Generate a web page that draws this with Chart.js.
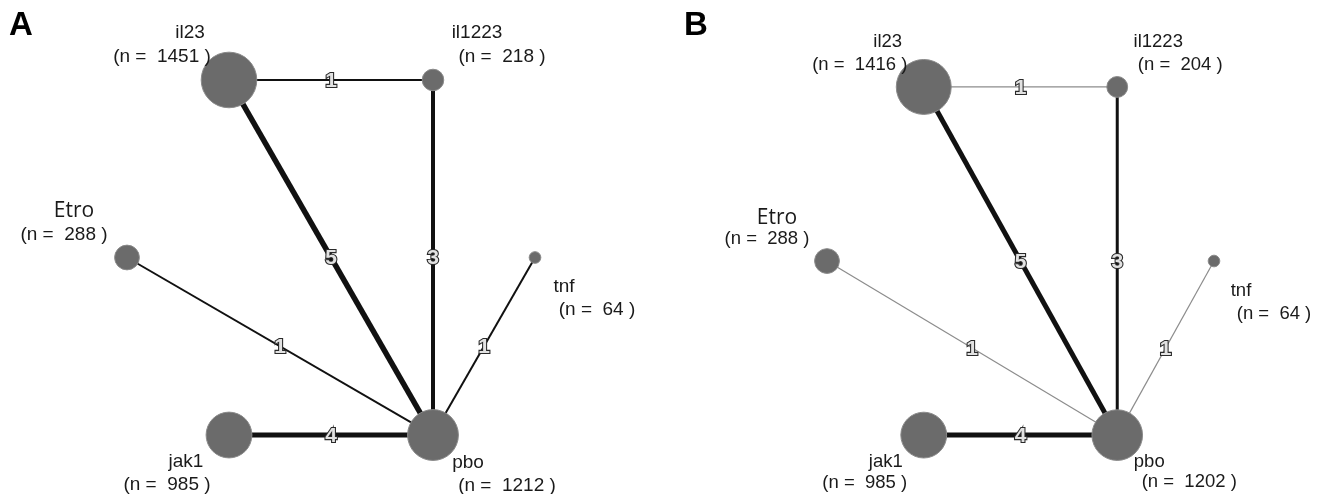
<!DOCTYPE html>
<html>
<head>
<meta charset="utf-8">
<script src="https://cdn.jsdelivr.net/npm/chart.js@4/dist/chart.umd.min.js"></script>
<style>
  html, body { margin: 0; padding: 0; background: #ffffff; }
  #wrap { position: relative; width: 1321px; height: 494px; overflow: hidden; }
  canvas { position: absolute; top: 0; }
  #cA { left: 0; }
  #cB { left: 660px; }
</style>
</head>
<body>
<div id="wrap">
  <canvas id="cA" width="660" height="494"></canvas>
  <canvas id="cB" width="661" height="494"></canvas>
</div>
<script>
// ---------------- DATA ----------------
const panelLabels = ['A', 'B'];
const treatments = ['tnf', 'il1223', 'il23', 'Etro', 'jak1', 'pbo'];
// circular (hexagon) network layout coordinates
const layoutX = [1, 0.5, -0.5, -1, -0.5, 0.5];
const layoutY = [0, 0.866, 0.866, 0, -0.866, -0.866];
const sampleSizeA = [64, 218, 1451, 288, 985, 1212];
const sampleSizeB = [64, 204, 1416, 288, 985, 1202];
const edgeFrom = ['il23', 'il23', 'il1223', 'Etro', 'tnf', 'jak1'];
const edgeTo   = ['il1223', 'pbo', 'pbo', 'pbo', 'pbo', 'pbo'];
const studiesA = [1, 5, 3, 1, 1, 4];
const studiesB = [1, 5, 3, 1, 1, 4];

// ---------------- STYLE / LAYOUT ----------------
const nodeColor = '#6b6b6b';
const nodeBorder = '#8a8a8a';
const radiusFactor = 0.73; // px per sqrt(n)

// label offsets (px from node centre): [nameDx, nameDy, nDx, nDy]
const labelOffsetsA = {
  tnf: [29, 29, 62, 52], il1223: [44, -47, 69, -23], il23: [-39, -47, -67, -23],
  Etro: [-53, -46, -63, -23], jak1: [-43, 27, -62, 50], pbo: [35, 28, 74, 51]
};
const labelOffsetsB = {
  tnf: [27, 30, 60, 53], il1223: [41, -45, 63, -22], il23: [-36, -45, -64, -22],
  Etro: [-50, -43, -60, -22], jak1: [-38, 27, -59, 48], pbo: [32, 27, 72, 47]
};

function edgeStyleA(k) {
  const w = k >= 5 ? 5.5 : k >= 4 ? 5 : k >= 3 ? 4 : 2;
  return { w: w, c: '#111111' };
}
function edgeStyleB(k) {
  if (k <= 1) return { w: 1.2, c: '#8c8c8c' };
  const w = k >= 4 ? 5 : 3;
  return { w: w, c: '#111111' };
}

function buildChart(canvasId, panel, sizes, studies, edgeStyle, offsets, bounds, fontPx) {
  const idx = name => treatments.indexOf(name);
  const datasets = [];
  // edges
  edgeFrom.forEach((f, i) => {
    const a = idx(f), b = idx(edgeTo[i]);
    const st = edgeStyle(studies[i]);
    datasets.push({
      type: 'line',
      label: f + '-' + edgeTo[i],
      data: [{ x: layoutX[a], y: layoutY[a] }, { x: layoutX[b], y: layoutY[b] }],
      borderColor: st.c,
      borderWidth: st.w,
      pointRadius: 0,
      fill: false,
      order: 2,
      edgeLabel: String(studies[i])
    });
  });
  // nodes
  datasets.push({
    type: 'scatter',
    label: 'nodes',
    data: treatments.map((t, i) => ({ x: layoutX[i], y: layoutY[i] })),
    pointRadius: sizes.map(n => radiusFactor * Math.sqrt(n)),
    pointHoverRadius: sizes.map(n => radiusFactor * Math.sqrt(n)),
    backgroundColor: nodeColor,
    borderColor: nodeBorder,
    borderWidth: 1,
    order: 1,
    isNodes: true
  });

  const labelPlugin = {
    id: 'netLabels' + panel,
    afterDatasetsDraw(chart) {
      const ctx = chart.ctx;
      ctx.save();
      // edge labels: hollow digits at edge midpoints
      chart.data.datasets.forEach((ds, di) => {
        if (!ds.edgeLabel) return;
        const pts = chart.getDatasetMeta(di).data;
        const mx = (pts[0].x + pts[1].x) / 2, my = (pts[0].y + pts[1].y) / 2;
        ctx.font = 'bold 21px "Liberation Sans Narrow", "Liberation Sans", Arial, sans-serif';
        ctx.textAlign = 'center';
        ctx.textBaseline = 'middle';
        ctx.lineWidth = 2.2;
        ctx.strokeStyle = '#2a2a2a';
        ctx.strokeText(ds.edgeLabel, mx, my + 1);
        ctx.fillStyle = '#e2e2e2';
        ctx.fillText(ds.edgeLabel, mx, my + 1);
      });
      // node labels
      const ni = chart.data.datasets.findIndex(d => d.isNodes);
      const pts = chart.getDatasetMeta(ni).data;
      ctx.textAlign = 'center';
      ctx.textBaseline = 'middle';
      ctx.fillStyle = '#1a1a1a';
      treatments.forEach((t, i) => {
        const o = offsets[t];
        const p = pts[i];
        if (t === 'Etro') {
          ctx.font = '21px "Open Sans", sans-serif';
        } else {
          ctx.font = fontPx + 'px "Liberation Sans", Arial, sans-serif';
        }
        ctx.fillText(t, p.x + o[0], p.y + o[1]);
        ctx.font = fontPx + 'px "Liberation Sans", Arial, sans-serif';
        ctx.fillText('(n =  ' + sizes[i] + ' )', p.x + o[2], p.y + o[3]);
      });
      // panel letter
      ctx.font = 'bold 33px "Liberation Sans", Arial, sans-serif';
      ctx.textAlign = 'center';
      ctx.fillStyle = '#000000';
      ctx.fillText(panel, bounds.letterX, 26);
      ctx.restore();
    }
  };

  return new Chart(document.getElementById(canvasId), {
    type: 'scatter',
    data: { datasets: datasets },
    options: {
      responsive: false,
      animation: false,
      devicePixelRatio: 1,
      layout: { padding: 0, autoPadding: false },
      plugins: { legend: { display: false }, tooltip: { enabled: false } },
      events: [],
      scales: {
        x: { type: 'linear', display: false, min: bounds.xmin, max: bounds.xmax },
        y: { type: 'linear', display: false, min: bounds.ymin, max: bounds.ymax }
      }
    },
    plugins: [labelPlugin]
  });
}

buildChart('cA', panelLabels[0], sampleSizeA, studiesA, edgeStyleA, labelOffsetsA,
  { xmin: -1.6225, xmax: 1.6127, ymin: -1.1537, ymax: 1.2561, letterX: 21 }, 19);
buildChart('cB', panelLabels[1], sampleSizeB, studiesB, edgeStyleB, labelOffsetsB,
  { xmin: -1.863, xmax: 1.553, ymin: -1.159, ymax: 1.2985, letterX: 36 }, 18.5);
</script>
</body>
</html>
